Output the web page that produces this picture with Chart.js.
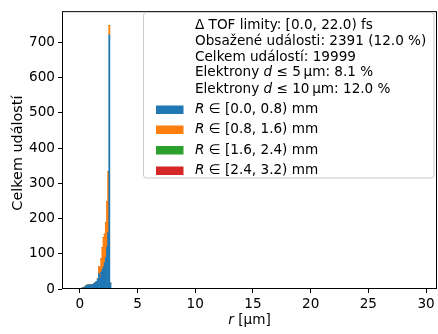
<!DOCTYPE html>
<html>
<head>
<meta charset="utf-8">
<script src="https://cdn.jsdelivr.net/npm/chart.js@4/dist/chart.umd.min.js"></script>
<style>
  html, body { margin: 0; padding: 0; background: #fff; }
  #wrap { width: 438px; height: 334px; position: relative; }
</style>
</head>
<body>
<div id="wrap"><canvas id="hist"></canvas></div>
<script>
// histogram bins of r [um], 0.1 um wide
const binStarts = [0.0, 0.1, 0.2, 0.3, 0.4, 0.5, 0.6, 0.7, 0.8, 0.9,
                   1.0, 1.1, 1.2, 1.3, 1.4, 1.5, 1.6, 1.7, 1.8, 1.9,
                   2.0, 2.1, 2.2, 2.3, 2.4, 2.5, 2.6, 2.7, 2.8, 2.9];
const binWidth = 0.1;

// counts per bin for each R range (stacked)
const countsR0 = [0, 2, 4, 3, 6, 9, 11, 12, 11, 12,
                  13, 12, 16, 19, 22, 28, 44, 30, 48, 55,
                  62, 75, 90, 120, 160, 722, 17, 0, 0, 0];
const countsR1 = [0, 0, 0, 0, 0, 0, 0, 0, 0, 0,
                  0, 0, 0, 0, 0, 2, 19, 30, 39, 63,
                  84, 81, 98, 128, 173, 27, 0, 0, 0, 0];
const countsR2 = [0, 0, 0, 0, 0, 0, 0, 0, 0, 0,
                  0, 0, 0, 0, 0, 0, 0, 0, 0, 0,
                  0, 0, 0, 0, 0, 0, 0, 0, 0, 0];
const countsR3 = [0, 0, 0, 0, 0, 0, 0, 0, 0, 0,
                  0, 0, 0, 0, 0, 0, 0, 0, 0, 0,
                  0, 0, 0, 0, 0, 0, 0, 0, 0, 0];

const rangeEdges = [0.0, 0.8, 1.6, 2.4, 3.2];   // R [mm]
const seriesColors = ['#1f77b4', '#ff7f0e', '#2ca02c', '#d62728'];

// summary lines of the legend
const tofLimits = [0.0, 22.0];   // fs
const eventsInside = 2391;
const eventsInsidePct = 12.0;
const eventsTotal = 19999;
const within5um = 8.1;
const within10um = 12.0;

const xTicks = [0, 5, 10, 15, 20, 25, 30];
const yTicks = [0, 100, 200, 300, 400, 500, 600, 700];

const FONT = '"DejaVu Sans", sans-serif';
const FS = 13.6;

const allCounts = [countsR0, countsR1, countsR2, countsR3];
const datasets = allCounts.map((counts, i) => ({
  label: 'R ' + rangeEdges[i] + '-' + rangeEdges[i + 1],
  data: counts.map((c, j) => ({ x: binStarts[j] + binWidth / 2, y: c })),
  backgroundColor: seriesColors[i],
  borderWidth: 0,
  barPercentage: 1.0,
  categoryPercentage: 1.0
}));

function fmt(v) { return v.toFixed(1); }

// draw a run of text pieces, some of them italic
function drawRun(ctx, parts, x, y) {
  parts.forEach(p => {
    ctx.font = (p.it ? 'italic ' : '') + FS + 'px ' + FONT;
    ctx.fillText(p.t, x, y);
    x += ctx.measureText(p.t).width;
  });
  return x;
}

const decorations = {
  id: 'decorations',
  afterDraw(chart) {
    const ctx = chart.ctx;
    const a = chart.chartArea;
    ctx.save();

    // axes frame
    ctx.strokeStyle = '#000';
    ctx.lineWidth = 1;
    ctx.strokeRect(a.left + 0.5, a.top + 0.5, a.right - a.left - 1, a.bottom - a.top - 1);

    ctx.fillStyle = '#000';
    ctx.textBaseline = 'middle';

    // x title
    ctx.font = 'italic ' + FS + 'px ' + FONT;
    const wr = ctx.measureText('r').width;
    ctx.font = FS + 'px ' + FONT;
    const wrest = ctx.measureText(' [\u03bcm]').width;
    const cx = (a.left + a.right) / 2;
    drawRun(ctx, [{ t: 'r', it: true }, { t: ' [\u03bcm]' }], cx - (wr + wrest) / 2, 320);

    // y title
    ctx.save();
    ctx.translate(18, (a.top + a.bottom) / 2 + 3);
    ctx.rotate(-Math.PI / 2);
    ctx.textAlign = 'center';
    ctx.font = '14.4px ' + FONT;
    ctx.fillText('Celkem událostí', 0, 0);
    ctx.restore();

    // legend box
    const bx = 143.5, by = 12.5, bw = 290.5, bh = 165.5;
    ctx.beginPath();
    ctx.roundRect(bx, by, bw, bh, 3);
    ctx.fillStyle = 'rgba(255,255,255,0.8)';
    ctx.fill();
    ctx.strokeStyle = '#cccccc';
    ctx.stroke();

    ctx.fillStyle = '#000';
    const tx = 195;
    const lines = [
      [{ t: '\u0394 TOF limity: [' + fmt(tofLimits[0]) + ', ' + fmt(tofLimits[1]) + ') fs' }],
      [{ t: 'Obsažené události: ' + eventsInside + ' (' + fmt(eventsInsidePct) + ' %)' }],
      [{ t: 'Celkem událostí: ' + eventsTotal }],
      [{ t: 'Elektrony ' }, { t: 'd', it: true }, { t: ' \u2264 5\u2009\u03bcm: ' + fmt(within5um) + ' %' }],
      [{ t: 'Elektrony ' }, { t: 'd', it: true }, { t: ' \u2264 10\u2009\u03bcm: ' + fmt(within10um) + ' %' }]
    ];
    const lineY = [25, 41.5, 57, 72.5, 89];
    lines.forEach((parts, i) => drawRun(ctx, parts, tx, lineY[i]));

    const rowY = [109.5, 129.5, 150, 170.5];
    rowY.forEach((y, i) => {
      ctx.fillStyle = seriesColors[i];
      ctx.fillRect(156, y - 4, 27.5, 8.5);
      ctx.fillStyle = '#000';
      drawRun(ctx, [{ t: 'R', it: true },
        { t: ' \u2208 [' + fmt(rangeEdges[i]) + ', ' + fmt(rangeEdges[i + 1]) + ') mm' }], tx, y);
    });

    ctx.restore();
  }
};

new Chart(document.getElementById('hist'), {
  type: 'bar',
  data: { datasets },
  options: {
    responsive: true,
    maintainAspectRatio: false,
    animation: false,
    devicePixelRatio: 1,
    layout: { padding: { top: 5, right: 1, left: 0, bottom: 0 } },
    plugins: { legend: { display: false }, tooltip: { enabled: false } },
    scales: {
      x: {
        type: 'linear',
        min: -1.55,
        max: 30.95,
        offset: false,
        stacked: true,
        afterBuildTicks: s => { s.ticks = xTicks.map(v => ({ value: v })); },
        afterFit: s => { s.height = 45; },
        grid: { offset: false, drawOnChartArea: false, tickLength: 4, color: '#000' },
        border: { display: false },
        ticks: { color: '#000', padding: 3, maxRotation: 0, autoSkip: false,
                 font: { family: FONT, size: FS } }
      },
      y: {
        min: 0,
        max: 789,
        stacked: true,
        afterBuildTicks: s => { s.ticks = yTicks.map(v => ({ value: v })); },
        afterFit: s => { s.width = 62; },
        grid: { drawOnChartArea: false, tickLength: 4, color: '#000' },
        border: { display: false },
        ticks: { color: '#000', padding: 3, autoSkip: false,
                 font: { family: FONT, size: FS } }
      }
    }
  },
  plugins: [decorations]
});
</script>
</body>
</html>
